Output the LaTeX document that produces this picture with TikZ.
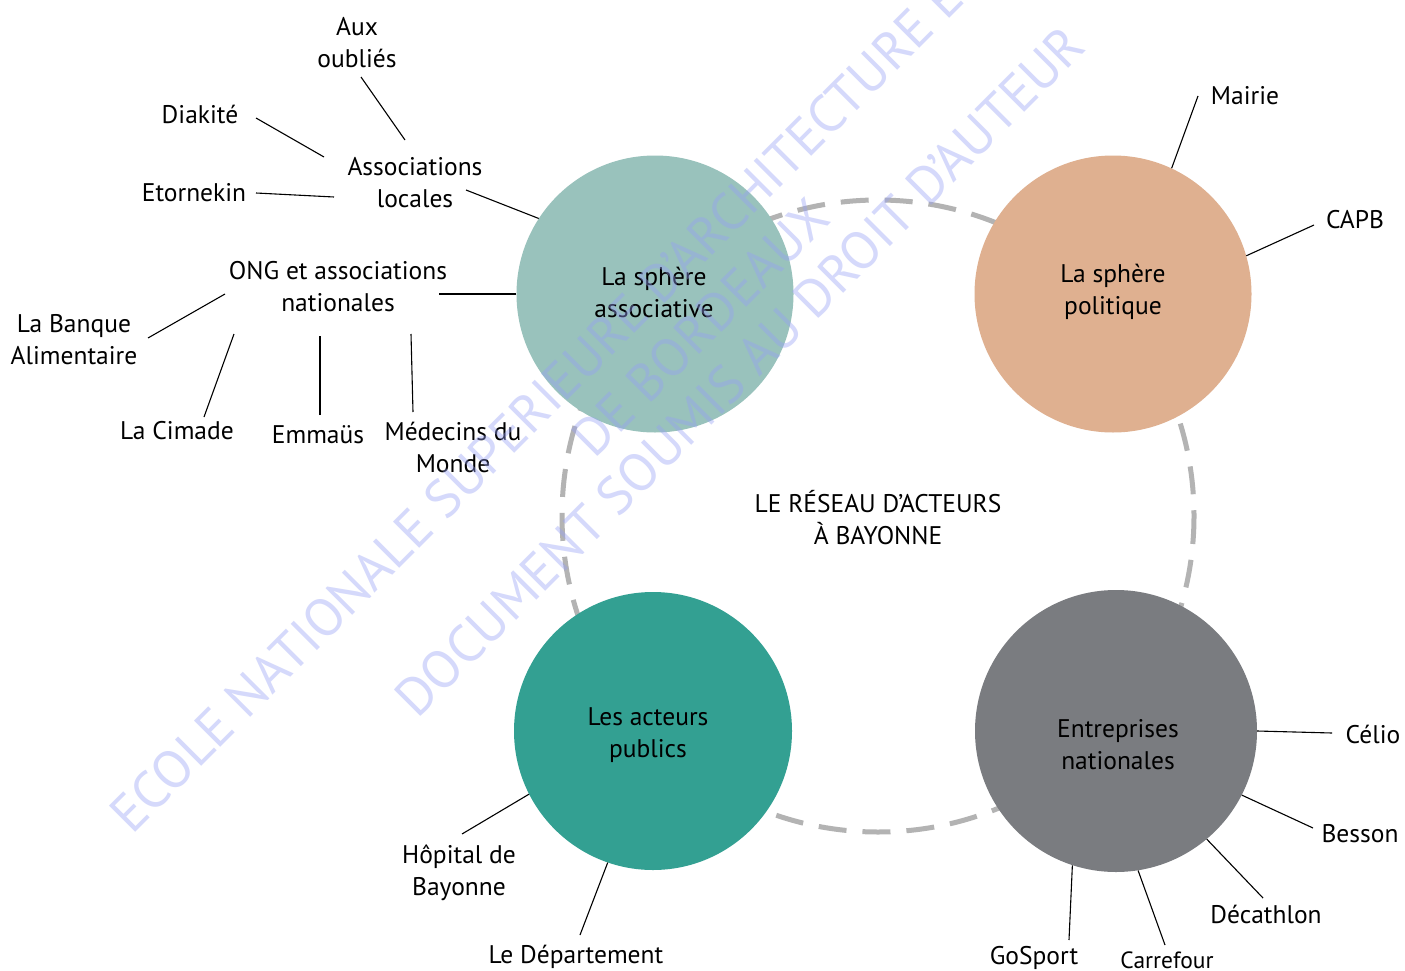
\documentclass[tikz,border=0pt]{standalone}
\usepackage{fontspec}
\setmainfont{PT Sans}
\definecolor{assoccol}{RGB}{153,194,188}
\definecolor{polcol}{RGB}{223,176,144}
\definecolor{pubcol}{RGB}{51,160,146}
\definecolor{entcol}{RGB}{122,124,128}
\definecolor{dashgray}{RGB}{179,179,179}
\definecolor{wmark}{RGB}{150,160,245}
\begin{document}
\begin{tikzpicture}[x=1pt,y=-1pt,
  sphere/.style={circle,inner sep=0pt,minimum size=277pt},
  lab/.style={align=center,inner sep=0pt,font=\fontsize{25.5}{32}\selectfont,text=black},
  conn/.style={draw=black,line width=1.1pt},
  wm/.style={rotate=45,anchor=base west,inner sep=0pt,text=wmark,text opacity=0.4,
    font=\fontsize{53}{53}\selectfont}]
\useasboundingbox (0,0) rectangle (1405,971);
\fill[white] (0,0) rectangle (1405,971);

% dashed ring
\coordinate (ringc) at (878,516);
\draw[dashgray,line width=5pt,dash pattern=on 28pt off 16pt] (ringc) circle[radius=316];

% spheres
\node[sphere,fill=assoccol] (assoc) at (655,294) {};
\node[sphere,fill=polcol] (pol) at (1113,294) {};
\node[sphere,fill=pubcol,minimum size=278pt] (pub) at (653,731) {};
\node[sphere,fill=entcol,minimum size=282pt] (ent) at (1116,731) {};
\node[lab] (assoct) at (654,292) {La sphère\\associative};
\node[lab] (polt) at (1113,292) {La sphère\\politique};
\node[lab] (pubt) at (648,735) {Les acteurs\\publics};
\node[lab] (entt) at (1118,745) {Entreprises\\nationales};

% centre title
\node[lab] (title) at (878,518) {LE RÉSEAU D’ACTEURS\\À BAYONNE};

% association labels
\node[lab] (assloc) at (415,183) {Associations\\locales};
\node[lab] (aux) at (357,43) {Aux\\oubliés};
\node[lab] (diak) at (200,114) {Diakité};
\node[lab] (etor) at (194,193) {Etornekin};
\node[lab] (ong) at (338,287) {ONG et associations\\nationales};
\node[lab] (banque) at (74,340) {La Banque\\Alimentaire};
\node[lab] (cimade) at (177,431) {La Cimade};
\node[lab] (emmaus) at (318,435) {Emmaüs};
\node[lab] (medecins) at (453,447) {Médecins du\\Monde};

% politique labels
\node[lab] (mairie) at (1245,96) {Mairie};
\node[lab] (capb) at (1355,220) {CAPB};

% publics labels
\node[lab] (hopital) at (459,873) {Hôpital de\\Bayonne};
\node[lab] (dept) at (576,957) {Le Département};

% entreprises labels
\node[lab] (celio) at (1373,734) {Célio};
\node[lab] (besson) at (1360,834) {Besson};
\node[lab] (decath) at (1266,914) {Décathlon};
\node[lab] (gosport) at (1034,958) {GoSport};
\node[lab,font=\fontsize{23.5}{28}\selectfont] (carref) at (1167,960) {Carrefour};

% connector free ends
\coordinate (e-assloc) at (466,190);
\coordinate (e-auxA) at (361,77);
\coordinate (e-auxB) at (405,140);
\coordinate (e-diakA) at (256,118);
\coordinate (e-diakB) at (324,157);
\coordinate (e-etorA) at (256,193);
\coordinate (e-etorB) at (334,197);
\coordinate (e-ong) at (439,294);
\coordinate (e-banA) at (148,338);
\coordinate (e-banB) at (225,294);
\coordinate (e-cimA) at (204,417);
\coordinate (e-cimB) at (234,334);
\coordinate (e-emmA) at (320,415);
\coordinate (e-emmB) at (320,336);
\coordinate (e-medA) at (413,412);
\coordinate (e-medB) at (411,334);
\coordinate (e-mairie) at (1198,96);
\coordinate (e-capb) at (1314,225);
\coordinate (e-hop) at (462,834);
\coordinate (e-dept) at (580,935);
\coordinate (e-celio) at (1332,733);
\coordinate (e-besson) at (1313,828);
\coordinate (e-decath) at (1263,898);
\coordinate (e-gosport) at (1069,940);
\coordinate (e-carref) at (1165,945);

% connectors
\draw[conn] (assoc.147) -- (e-assloc);
\draw[conn] (assoc.180) -- (e-ong);
\draw[conn] (e-auxA) -- (e-auxB);
\draw[conn] (e-diakA) -- (e-diakB);
\draw[conn] (e-etorA) -- (e-etorB);
\draw[conn] (e-banA) -- (e-banB);
\draw[conn] (e-cimA) -- (e-cimB);
\draw[conn] (e-emmA) -- (e-emmB);
\draw[conn] (e-medA) -- (e-medB);
\draw[conn] (pol.65) -- (e-mairie);
\draw[conn] (pol.16) -- (e-capb);
\draw[conn] (pub.207) -- (e-hop);
\draw[conn] (pub.251) -- (e-dept);
\draw[conn] (ent.0) -- (e-celio);
\draw[conn] (ent.333) -- (e-besson);
\draw[conn] (ent.310) -- (e-decath);
\draw[conn] (ent.252) -- (e-gosport);
\draw[conn] (ent.279) -- (e-carref);

% watermark
\begin{scope}
\clip (0,0) rectangle (1405,971);
\node[wm] (wm1) at (132,836) {ECOLE NATIONALE SUPERIEURE D'ARCHITECTURE ET};
\node[wm] (wm2) at (594,460) {DE BORDEAUX};
\node[wm] (wm3) at (417,720) {DOCUMENT SOUMIS AU DROIT D'AUTEUR};
\end{scope}
\end{tikzpicture}
\end{document}
